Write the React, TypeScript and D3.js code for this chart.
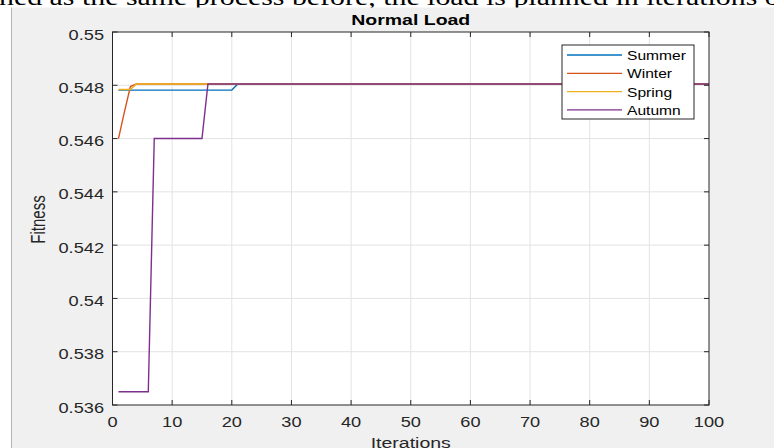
import React from "react";
import * as d3 from "d3";

const xTicks = [0, 10, 20, 30, 40, 50, 60, 70, 80, 90, 100];
const yTicks = [0.536, 0.538, 0.54, 0.542, 0.544, 0.546, 0.548, 0.55];
const yTickLabels = ["0.536", "0.538", "0.54", "0.542", "0.544", "0.546", "0.548", "0.55"];

const seriesNames = ["Summer", "Winter", "Spring", "Autumn"];
const seriesColors = ["#0072BD", "#D95319", "#EDB120", "#7E2F8E"];

const summerIter = [1, 20, 21, 100];
const summerFit = [0.54782, 0.54782, 0.54805, 0.54805];
const winterIter = [1, 2, 3, 4, 100];
const winterFit = [0.546, 0.547, 0.54795, 0.54805, 0.54805];
const springIter = [1, 3, 4, 100];
const springFit = [0.54784, 0.54784, 0.54805, 0.54805];
const autumnIter = [1, 6, 7, 15, 16, 100];
const autumnFit = [0.5365, 0.5365, 0.546, 0.546, 0.54805, 0.54805];

const seriesIter = [summerIter, winterIter, springIter, autumnIter];
const seriesFit = [summerFit, winterFit, springFit, autumnFit];

const W = 774;
const H = 448;
const L = 112.5;
const R = 709;
const T = 32;
const B = 405;
const SX = 1.3;
const FONT = "'Liberation Sans', Arial, Helvetica, sans-serif";
const AX = "#262626";

function ST(props: {
  x: number;
  y: number;
  size: number;
  anchor?: string;
  weight?: string;
  fill?: string;
  family?: string;
  rotate?: number;
  children: React.ReactNode;
}) {
  const rot = props.rotate ? ` rotate(${props.rotate})` : "";
  return (
    <text
      transform={`translate(${props.x},${props.y}) scale(${SX},1)${rot}`}
      textAnchor={props.anchor || "start"}
      fontFamily={props.family || FONT}
      fontSize={props.size}
      fontWeight={props.weight || "normal"}
      fill={props.fill || AX}
    >
      {props.children}
    </text>
  );
}

export default function App() {
  const x = d3.scaleLinear().domain([0, 100]).range([L, R]);
  const y = d3.scaleLinear().domain([0.536, 0.55]).range([B, T]);
  const line = d3
    .line<[number, number]>()
    .x((d) => x(d[0]))
    .y((d) => y(d[1]));

  const legX = 562;
  const legY = 45;
  const legW = 132;
  const legH = 74;

  return (
    <svg
      width={W}
      height={H}
      style={{ position: "absolute", left: 0, top: 0, display: "block" }}
    >
      <rect x={0} y={0} width={W} height={H} fill="#ffffff" />
      <ST x={-1} y={5} size={23} family="'Liberation Serif', 'Times New Roman', serif" fill="#000">
        ned as the same process before, the load is planned in iterations of
      </ST>
      <rect x={11} y={7.5} width={W - 11} height={H - 7.5} fill="#f0f0f0" />
      <line x1={11.5} y1={7.5} x2={11.5} y2={H} stroke="#b4b4b4" strokeWidth={1} />

      <rect x={L} y={T} width={R - L} height={B - T} fill="#ffffff" />

      {xTicks.slice(1, -1).map((t) => (
        <line key={"gx" + t} x1={x(t)} x2={x(t)} y1={T} y2={B} stroke="#e3e3e3" strokeWidth={1} />
      ))}
      {yTicks.slice(1, -1).map((t) => (
        <line key={"gy" + t} x1={L} x2={R} y1={y(t)} y2={y(t)} stroke="#e3e3e3" strokeWidth={1} />
      ))}

      {seriesNames.map((n, i) => (
        <path
          key={n}
          d={line(seriesIter[i].map((it, k) => [it, seriesFit[i][k]] as [number, number])) || ""}
          fill="none"
          stroke={seriesColors[i]}
          strokeWidth={1.4}
        />
      ))}

      <rect x={L} y={T} width={R - L} height={B - T} fill="none" stroke={AX} strokeWidth={1} />

      {xTicks.map((t) => (
        <g key={"xt" + t}>
          <line x1={x(t)} x2={x(t)} y1={B} y2={B - 5} stroke={AX} />
          <line x1={x(t)} x2={x(t)} y1={T} y2={T + 5} stroke={AX} />
          <ST x={x(t)} y={427} size={14} anchor="middle">
            {t}
          </ST>
        </g>
      ))}
      {yTicks.map((t, i) => (
        <g key={"yt" + t}>
          <line x1={L} x2={L + 5} y1={y(t)} y2={y(t)} stroke={AX} />
          <line x1={R} x2={R - 5} y1={y(t)} y2={y(t)} stroke={AX} />
          <ST x={104} y={y(t) + 7.5} size={14} anchor="end">
            {yTickLabels[i]}
          </ST>
        </g>
      ))}

      <ST x={(L + R) / 2} y={25} size={15} anchor="middle" weight="bold" fill="#000">
        Normal Load
      </ST>
      <ST x={(L + R) / 2} y={448} size={15} anchor="middle">
        Iterations
      </ST>
      <ST x={45} y={(T + B) / 2 + 1} size={15} anchor="middle" rotate={-90}>
        Fitness
      </ST>

      <rect x={legX} y={legY} width={legW} height={legH} fill="#ffffff" stroke={AX} strokeWidth={1} />
      {seriesNames.map((n, i) => {
        const ly = legY + 10 + i * 18.3;
        return (
          <g key={"lg" + n}>
            <line x1={legX + 5} x2={legX + 60} y1={ly} y2={ly} stroke={seriesColors[i]} strokeWidth={1.3} />
            <ST x={legX + 65} y={ly + 5} size={12} fill="#000">
              {n}
            </ST>
          </g>
        );
      })}
    </svg>
  );
}
